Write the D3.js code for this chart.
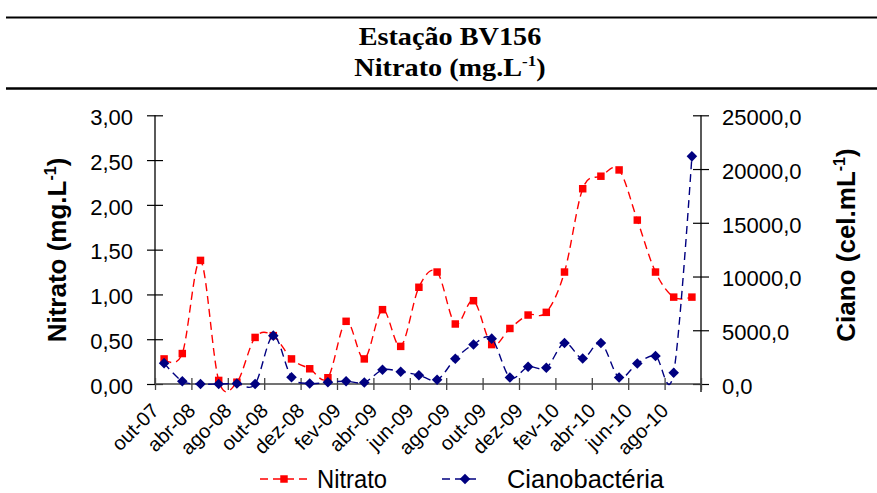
<!DOCTYPE html>
<html>
<head>
<meta charset="utf-8">
<script src="https://cdn.jsdelivr.net/npm/d3@7"></script>
<style>
  html, body { margin: 0; padding: 0; background: #fff; }
  svg { display: block; }
  text { font-family: "Liberation Sans", Arial, sans-serif; }
</style>
</head>
<body>
<svg id="chart" width="877" height="493"></svg>
<script>
// Sampling dates (every other one is labelled on the axis)
const categories = [
  "out-07", "jan-08", "abr-08", "jun-08", "ago-08", "set-08", "out-08", "nov-08",
  "dez-08", "jan-09", "fev-09", "mar-09", "abr-09", "mai-09", "jun-09", "jul-09",
  "ago-09", "set-09", "out-09", "nov-09", "dez-09", "jan-10", "fev-10", "mar-10",
  "abr-10", "mai-10", "jun-10", "jul-10", "ago-10", "set-10"
];

// Nitrato (mg.L-1)
const nitrato = [
  0.28, 0.34, 1.38, 0.04, 0.02, 0.52, 0.54, 0.28, 0.17, 0.07,
  0.70, 0.28, 0.83, 0.42, 1.08, 1.25, 0.67, 0.93, 0.44, 0.62,
  0.77, 0.80, 1.25, 2.18, 2.32, 2.39, 1.83, 1.25, 0.97, 0.97
];

// Cianobactérias (cel.mL-1)
const ciano = [
  1940, 260, 0, 0, 50, 0, 4500, 630, 50, 170,
  260, 140, 1320, 1140, 820, 390, 2350, 3680, 4220, 610,
  1600, 1510, 3810, 2380, 3810, 610, 1910, 2600, 1040, 21180
];

const leftTicks = [0, 0.5, 1, 1.5, 2, 2.5, 3];
const rightTicks = [0, 5000, 10000, 15000, 20000, 25000];

const svg = d3.select("#chart");
const plot = { left: 155, right: 701, top: 115.3, bottom: 384 };

const locale = d3.formatLocale({ decimal: ",", thousands: ".", grouping: [3], currency: ["R$", ""] });
const fmt2 = locale.format(".2f");
const fmt1 = locale.format(".1f");

const x = d3.scaleBand().domain(categories).range([plot.left, plot.right]).padding(0);
const xIdx = d3.scaleLinear().domain([0, categories.length]).range([plot.left, plot.right]);
const yL = d3.scaleLinear().domain([0, 3]).range([plot.bottom, plot.top]);
const yR = d3.scaleLinear().domain([0, 25000]).range([plot.bottom, plot.top]);
const cx = c => x(c) + x.bandwidth() / 2;

// Header rules and title
svg.append("line").attr("x1", 6).attr("x2", 877).attr("y1", 17.5).attr("y2", 17.5)
  .attr("stroke", "#000").attr("stroke-width", 2.2);
svg.append("line").attr("x1", 6).attr("x2", 877).attr("y1", 88.5).attr("y2", 88.5)
  .attr("stroke", "#000").attr("stroke-width", 2.6);

const title = svg.append("g").attr("transform", "translate(450,0) scale(1.13,1)")
  .style("font-family", "'Liberation Serif', 'Times New Roman', serif")
  .style("font-weight", "bold").style("font-size", "25px").attr("text-anchor", "middle");
title.append("text").attr("x", 0).attr("y", 45.5).style("font-family", "inherit").text("Estação BV156");
const t2 = title.append("text").attr("x", 0).attr("y", 76).style("font-family", "inherit");
t2.append("tspan").text("Nitrato (mg.L");
t2.append("tspan").attr("dy", -10).style("font-size", "15px").text("-1");
t2.append("tspan").attr("dy", 10).text(")");

// Left axis
const gL = svg.append("g").attr("transform", `translate(${plot.left},0)`)
  .call(d3.axisLeft(yL).tickValues(leftTicks).tickFormat(fmt2).tickSize(8).tickPadding(14));
gL.selectAll(".tick line").clone().attr("x2", 8);
gL.select(".domain").attr("d", `M0,${plot.top}V${plot.bottom}`).attr("stroke", "#000").attr("stroke-width", 1.3);
gL.selectAll(".tick line").attr("stroke", "#000").attr("stroke-width", 1.2);
gL.selectAll(".tick text").style("font-size", "22px").style("font-family", "'Liberation Sans', Arial, sans-serif")
  .attr("fill", "#000").attr("dy", "0.42em");

// Right axis
const gR = svg.append("g").attr("transform", `translate(${plot.right},0)`)
  .call(d3.axisRight(yR).tickValues(rightTicks).tickFormat(fmt1).tickSize(8).tickPadding(13));
gR.selectAll(".tick line").clone().attr("x2", -8);
gR.select(".domain").attr("d", `M0,${plot.top}V${plot.bottom + 8}`).attr("stroke", "#000").attr("stroke-width", 1.3);
gR.selectAll(".tick line").attr("stroke", "#000").attr("stroke-width", 1.2);
gR.selectAll(".tick text").style("font-size", "22px").style("font-family", "'Liberation Sans', Arial, sans-serif")
  .attr("fill", "#000").attr("dy", "0.42em");

// Bottom axis: tick marks between every second category
const gB = svg.append("g").attr("transform", `translate(0,${plot.bottom})`)
  .call(d3.axisBottom(xIdx).tickValues(d3.range(0, categories.length + 1, 2)).tickFormat("").tickSize(6));
gB.selectAll(".tick line").clone().attr("y2", -6);
gB.select(".domain").attr("d", `M${plot.left},0H${plot.right}`).attr("stroke", "#444").attr("stroke-width", 1.6);
gB.selectAll(".tick line").attr("stroke", "#444").attr("stroke-width", 1.3);

// Bottom axis labels, rotated
const labelled = categories.filter((d, i) => i % 2 === 0);
const gBL = svg.append("g").attr("transform", `translate(0,${plot.bottom})`)
  .call(d3.axisBottom(x).tickValues(labelled).tickSize(0));
gBL.select(".domain").remove();
gBL.selectAll(".tick text")
  .style("font-size", "20px").style("font-family", "'Liberation Sans', Arial, sans-serif").attr("fill", "#000")
  .attr("text-anchor", "end").attr("x", null).attr("y", null).attr("dy", null)
  .attr("transform", "translate(-4,28) rotate(-45)");

// Series lines (smoothed, dashed) and markers
const lineN = d3.line().x((d, i) => cx(categories[i])).y(d => yL(d)).curve(d3.curveCardinal);
const lineC = d3.line().x((d, i) => cx(categories[i])).y(d => yR(d)).curve(d3.curveCardinal);

svg.append("path").datum(nitrato).attr("d", lineN).attr("fill", "none")
  .attr("stroke", "#FF0000").attr("stroke-width", 1.4).attr("stroke-dasharray", "8,5");
svg.append("g").selectAll("path").data(nitrato).join("path")
  .attr("d", d3.symbol(d3.symbolSquare, 56))
  .attr("transform", (d, i) => `translate(${cx(categories[i])},${yL(d)})`)
  .attr("fill", "#FF0000");

svg.append("path").datum(ciano).attr("d", lineC).attr("fill", "none")
  .attr("stroke", "#000080").attr("stroke-width", 1.4).attr("stroke-dasharray", "8,5");
svg.append("g").selectAll("path").data(ciano).join("path")
  .attr("d", d3.symbol(d3.symbolSquare, 56))
  .attr("transform", (d, i) => `translate(${cx(categories[i])},${yR(d)}) rotate(45)`)
  .attr("fill", "#000080");

// Axis titles
const yt = svg.append("text").attr("transform", "translate(66,250) rotate(-90)")
  .attr("text-anchor", "middle").style("font-weight", "bold").style("font-size", "26px");
yt.append("tspan").text("Nitrato (mg.L");
yt.append("tspan").attr("dy", -10).style("font-size", "16px").text("-1");
yt.append("tspan").attr("dy", 10).text(")");

const yt2 = svg.append("text").attr("transform", "translate(855,245) rotate(-90)")
  .attr("text-anchor", "middle").style("font-weight", "bold").style("font-size", "26px");
yt2.append("tspan").text("Ciano (cel.mL");
yt2.append("tspan").attr("dy", -10).style("font-size", "16px").text("-1");
yt2.append("tspan").attr("dy", 10).text(")");

// Legend
const legend = [
  { name: "Nitrato", color: "#FF0000", x1: 260, x2: 310, mx: 284, tx: 317, w: 70, rot: 0 },
  { name: "Cianobactéria", color: "#000080", x1: 442, x2: 481, mx: 465, tx: 507, w: 157, rot: 45 }
];
const lg = svg.append("g").selectAll("g").data(legend).join("g");
lg.append("line").attr("x1", d => d.x1).attr("x2", d => d.x2).attr("y1", 479).attr("y2", 479)
  .attr("stroke", d => d.color).attr("stroke-width", 1.4).attr("stroke-dasharray", "8,5");
lg.append("path").attr("d", d3.symbol(d3.symbolSquare, 56))
  .attr("transform", d => `translate(${d.mx},479) rotate(${d.rot})`).attr("fill", d => d.color);
lg.append("text").attr("x", d => d.tx).attr("y", 488).style("font-size", "26px")
  .attr("textLength", d => d.w).attr("lengthAdjust", "spacingAndGlyphs")
  .text(d => d.name);
</script>
</body>
</html>
